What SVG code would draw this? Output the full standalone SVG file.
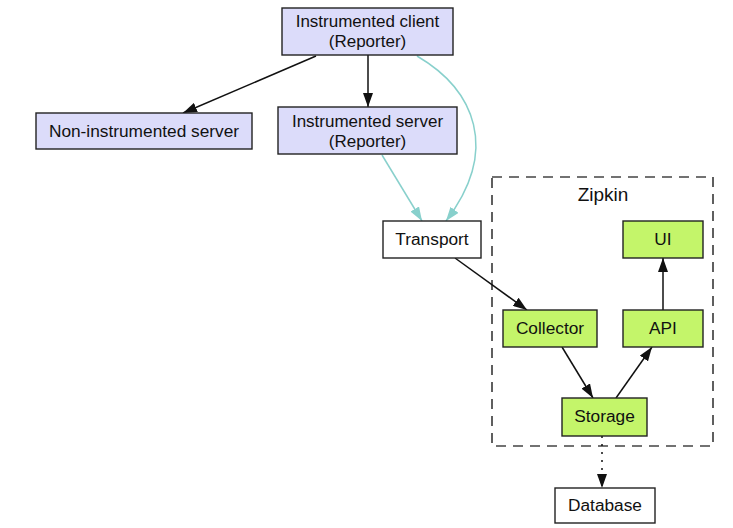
<svg xmlns="http://www.w3.org/2000/svg" width="733" height="528" viewBox="0 0 733 528">
<defs>
<style>
text{font-family:"Liberation Sans",Arial,sans-serif;font-size:17.3px;fill:#111;text-anchor:middle}
.two{font-size:17px}
.lav{fill:#dcdcfa;stroke:#222;stroke-width:1.4}
.grn{fill:#c4f56a;stroke:#222;stroke-width:1.4}
.wht{fill:#fff;stroke:#222;stroke-width:1.4}
.e{fill:none;stroke:#111;stroke-width:1.5}
.t{fill:none;stroke:#88d0cc;stroke-width:1.5}
</style>
<marker id="ab" viewBox="0 0 14 10" refX="14" refY="5" markerWidth="14" markerHeight="10" markerUnits="userSpaceOnUse" orient="auto"><path d="M0,0 L14,5 L0,10 Z" fill="#111"/></marker>
<marker id="at" viewBox="0 0 14 10" refX="14" refY="5" markerWidth="14" markerHeight="10" markerUnits="userSpaceOnUse" orient="auto"><path d="M0,0 L14,5 L0,10 Z" fill="#88d0cc"/></marker>
</defs>
<rect width="733" height="528" fill="#fff"/>
<g id="zipkin">
<rect x="492" y="177" width="221" height="269" fill="none" stroke="#444" stroke-width="1.7" stroke-dasharray="10,7"/>
<text x="603" y="201" style="font-size:19px">Zipkin</text>
</g>
<g id="connectors">
<path class="e" d="M316,56 L183,113" marker-end="url(#ab)"/>
<path class="e" d="M368,55 L368,107" marker-end="url(#ab)"/>
<path class="t" d="M417,56 C475,90 500,150 446,221" marker-end="url(#at)"/>
<path class="t" d="M382,155 L422,221" marker-end="url(#at)"/>
<path class="e" d="M455,258 L527,310" marker-end="url(#ab)"/>
<path class="e" d="M562,347 L593,398" marker-end="url(#ab)"/>
<path class="e" d="M616,398 L652,347" marker-end="url(#ab)"/>
<path class="e" d="M663,310 L663,258" marker-end="url(#ab)"/>
<path class="e" d="M602,436 L602,488" stroke-dasharray="2,6" marker-end="url(#ab)"/>
</g>
<g id="client">
<rect class="lav" x="282" y="8" width="171" height="47"/>
<text class="two" x="367.5" y="27">Instrumented client</text>
<text class="two" x="367.5" y="47">(Reporter)</text>
</g>
<g id="server">
<rect class="lav" x="278" y="107" width="179" height="47"/>
<text class="two" x="367.5" y="127">Instrumented server</text>
<text class="two" x="367.5" y="147">(Reporter)</text>
</g>
<g id="noninstrumented">
<rect class="lav" x="36" y="113" width="216" height="36"/>
<text x="144" y="137">Non-instrumented server</text>
</g>
<g id="transport">
<rect class="wht" x="383" y="221" width="98" height="37"/>
<text x="432" y="245">Transport</text>
</g>
<g id="ui">
<rect class="grn" x="623" y="221" width="80" height="37"/>
<text x="663" y="245">UI</text>
</g>
<g id="collector">
<rect class="grn" x="503" y="310" width="94" height="37"/>
<text x="550" y="334">Collector</text>
</g>
<g id="api">
<rect class="grn" x="623" y="310" width="80" height="37"/>
<text x="663" y="334">API</text>
</g>
<g id="storage">
<rect class="grn" x="562" y="398" width="85" height="38"/>
<text x="604.5" y="422">Storage</text>
</g>
<g id="database">
<rect class="wht" x="555" y="488" width="100" height="35"/>
<text x="605" y="511">Database</text>
</g>
</svg>
